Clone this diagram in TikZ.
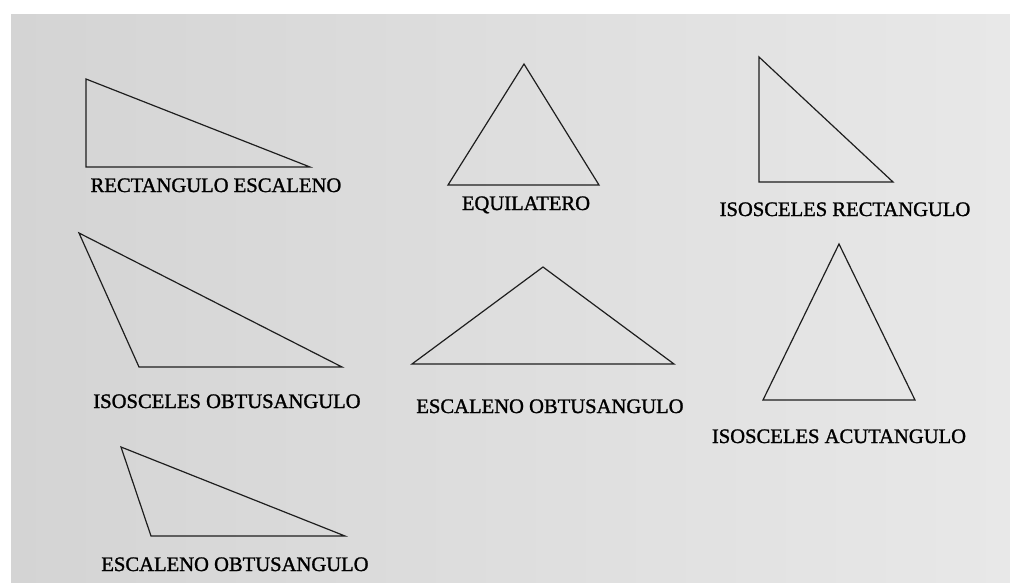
\documentclass[tikz,border=0pt]{standalone}
\usepackage{fontspec}
\setmainfont{Liberation Serif}
\newfontfamily\lblfont[FakeBold=1.3]{Liberation Serif}
\definecolor{papeldark}{RGB}{212,212,212}
\definecolor{papellight}{RGB}{232,232,232}
\definecolor{tinta}{RGB}{30,30,30}
\tikzset{
  tri/.style={draw=tinta, line width=1.2pt, line join=miter},
  lbl/.style={anchor=base, inner sep=0pt, text=black,
    font=\lblfont\fontsize{20.6}{24}\selectfont}
}
\begin{document}
\begin{tikzpicture}[x=1pt, y=-1pt]
  % ================= 画布与纸张 =================
  \useasboundingbox (0,0) rectangle (1010,582);
  \fill[white] (0,0) rectangle (1010,582);
  \shade[left color=papeldark, right color=papellight] (11,14) rectangle (1010,582);

  % ================= 第一行 =================
  % 直角不等边
  \draw[tri] (86,79) coordinate (re1) -- (86,167) coordinate (re2) -- (310,167) coordinate (re3) -- cycle;
  \node[lbl] (reLbl) at (216,192) {RECTANGULO ESCALENO};

  % 等边
  \draw[tri] (524,64) coordinate (eq1) -- (448,185) coordinate (eq2) -- (599,185) coordinate (eq3) -- cycle;
  \node[lbl] (eqLbl) at (526,210) {EQUILATERO};

  % 等腰直角
  \draw[tri] (759,57) coordinate (ir1) -- (759,182) coordinate (ir2) -- (893,182) coordinate (ir3) -- cycle;
  \node[lbl] (irLbl) at (845,216) {ISOSCELES RECTANGULO};

  % ================= 第二行 =================
  % 等腰钝角
  \draw[tri] (79,233) coordinate (io1) -- (139,367) coordinate (io2) -- (342,367) coordinate (io3) -- cycle;
  \node[lbl] (ioLbl) at (227,408) {ISOSCELES OBTUSANGULO};

  % 不等边钝角 (中)
  \draw[tri] (543,267) coordinate (eo1) -- (412,364) coordinate (eo2) -- (674,364) coordinate (eo3) -- cycle;
  \node[lbl] (eoLbl) at (550,413) {ESCALENO OBTUSANGULO};

  % 等腰锐角
  \draw[tri] (839,244) coordinate (ia1) -- (763,400) coordinate (ia2) -- (915,400) coordinate (ia3) -- cycle;
  \node[lbl] (iaLbl) at (839,443) {ISOSCELES ACUTANGULO};

  % ================= 第三行 =================
  \draw[tri] (121,447) coordinate (ef1) -- (151,536) coordinate (ef2) -- (345,536) coordinate (ef3) -- cycle;
  \node[lbl] (efLbl) at (235,571) {ESCALENO OBTUSANGULO};
\end{tikzpicture}
\end{document}
